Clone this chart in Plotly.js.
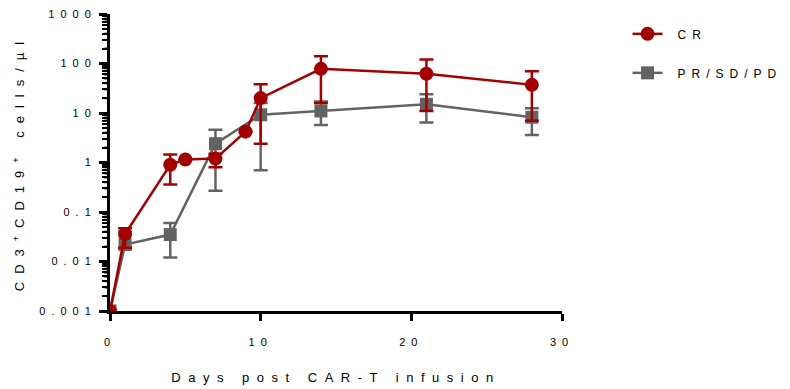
<!DOCTYPE html>
<html>
<head>
<meta charset="utf-8">
<script src="https://cdn.plot.ly/plotly-3.0.1.min.js"></script>
<style>
  html, body { margin: 0; padding: 0; background: #fff; }
  #chart { width: 790px; height: 389px; }
  .js-plotly-plot .xtick text, .js-plotly-plot .ytick text { letter-spacing: 6px; }
  .js-plotly-plot .g-xtitle text { letter-spacing: 7.5px; }
  .js-plotly-plot .g-ytitle text { letter-spacing: 8px; }
  .js-plotly-plot .legendtext { letter-spacing: 6px; transform: translateX(10px); }
  .js-plotly-plot .legend .scrollbox, .js-plotly-plot .legend { clip-path: none !important; }
  .js-plotly-plot .legend .bg { fill: none !important; }
</style>
</head>
<body>
<div id="chart"></div>
<script>
// Days post infusion
const crDays   = [0, 1, 4, 5, 7, 9, 10, 14, 21, 28];
const crMean   = [0.001, 0.036, 0.9, 1.15, 1.2, 4.2, 20, 78, 62, 37];
const crUpper  = [0.001, 0.047, 1.45, 1.15, 1.5, 4.2, 38, 140, 120, 70];
const crLower  = [0.001, 0.019, 0.36, 1.15, 0.8, 4.2, 2.4, 16, 11, 7];

const prDays   = [0, 1, 4, 7, 10, 14, 21, 28];
const prMean   = [0.001, 0.022, 0.035, 2.4, 9.2, 11, 15, 8.2];
const prUpper  = [0.001, 0.04, 0.06, 4.6, 16, 17, 24, 12.5];
const prLower  = [0.001, 0.018, 0.012, 0.27, 0.7, 5.7, 6.4, 3.6];

const seriesNames = ['CR', 'PR/SD/PD'];
const xTickVals = [0, 10, 20, 30];
const yTickVals = [0.001, 0.01, 0.1, 1, 10, 100, 1000];
const yTickText = ['0.001', '0.01', '0.1', '1', '10', '100', '1000'];
const yLogRange = [-3, 3];
// minor (unlabelled) log ticks: 2..9 within each decade
const yMinorVals = [];
for (let e = -3; e < 3; e++) for (let d = 2; d <= 9; d++) yMinorVals.push(+(d * Math.pow(10, e)).toPrecision(3));

const red = '#a30000';
const gray = '#636363';

function errs(mean, up, lo) {
  return {
    type: 'data', symmetric: false,
    array: up.map((u, i) => u - mean[i]),
    arrayminus: mean.map((m, i) => m - lo[i]),
    thickness: 2.5, width: 7
  };
}

const prTrace = {
  x: prDays, y: prMean, name: seriesNames[1], legendgroup: 'b', legendrank: 2,
  type: 'scatter', mode: 'lines+markers',
  line: {color: gray, width: 2.5},
  marker: {symbol: 'square', size: 13, color: gray},
  error_y: Object.assign(errs(prMean, prUpper, prLower), {color: gray})
};
const crTrace = {
  x: crDays, y: crMean, name: seriesNames[0], legendgroup: 'a', legendrank: 1,
  type: 'scatter', mode: 'lines+markers',
  line: {color: red, width: 2.5},
  marker: {symbol: 'circle', size: 14, color: red},
  error_y: Object.assign(errs(crMean, crUpper, crLower), {color: red})
};
// minor tick dashes drawn just left of the y axis (on a shifted helper x axis)
const minorTickTrace = {
  x: yMinorVals.map(() => 0), y: yMinorVals, xaxis: 'x2',
  type: 'scatter', mode: 'markers', cliponaxis: false,
  marker: {symbol: 'line-ew', size: 5, color: '#000', line: {color: '#000', width: 2}},
  showlegend: false, hoverinfo: 'skip'
};

// minor tick marks as paper shapes as well, positioned by the log scale fraction
const minorTickShapes = yMinorVals.map(v => {
  const f = (Math.log10(v) - yLogRange[0]) / (yLogRange[1] - yLogRange[0]);
  return {
    type: 'line', xref: 'paper', yref: 'paper', layer: 'above',
    x0: -0.0125, x1: -0.002, y0: f, y1: f,
    line: {color: '#000', width: 2}
  };
});

const layout = {
  width: 790, height: 389,
  margin: {l: 110, r: 228, t: 14, b: 78},
  paper_bgcolor: '#fff', plot_bgcolor: '#fff',
  font: {family: 'Liberation Sans, Arial, sans-serif', color: '#000', size: 11},
  showlegend: true,
  legend: {
    x: 1.145, y: 0.982, xanchor: 'left', yanchor: 'top',
    traceorder: 'grouped', tracegroupgap: 20,
    font: {size: 12, color: '#000'}, bgcolor: 'rgba(0,0,0,0)'
  },
  shapes: minorTickShapes,
  xaxis: {
    range: [0, 30], tickvals: xTickVals, ticktext: xTickVals.map(String),
    showgrid: false, zeroline: false,
    showline: true, linecolor: '#000', linewidth: 3,
    ticks: 'outside', ticklen: 7, tickwidth: 3, tickcolor: '#000',
    ticklabelstandoff: 12,
    tickfont: {size: 11},
    title: {text: 'Days post CAR-T infusion', font: {size: 13}, standoff: 26}
  },
  xaxis2: {
    overlaying: 'x', range: [0.3, 30.3], visible: false, showgrid: false, zeroline: false
  },
  yaxis: {
    type: 'log', range: yLogRange,
    tickmode: 'array', tickvals: yTickVals, ticktext: yTickText,
    showgrid: false, zeroline: false,
    showline: true, linecolor: '#000', linewidth: 3,
    ticks: 'outside', ticklen: 8, tickwidth: 3, tickcolor: '#000',
    ticklabelstandoff: 0,
    tickfont: {size: 11},
    minor: {tickmode: 'array', tickvals: yMinorVals, ticks: 'outside', ticklen: 5, tickwidth: 2, tickcolor: '#000', showgrid: false},
    title: {text: 'CD3<sup>+</sup>CD19<sup>+</sup> cells/µl', font: {size: 13}, standoff: 42}
  }
};

Plotly.newPlot('chart', [minorTickTrace, prTrace, crTrace], layout, {displayModeBar: false, staticPlot: true});
</script>
</body>
</html>
